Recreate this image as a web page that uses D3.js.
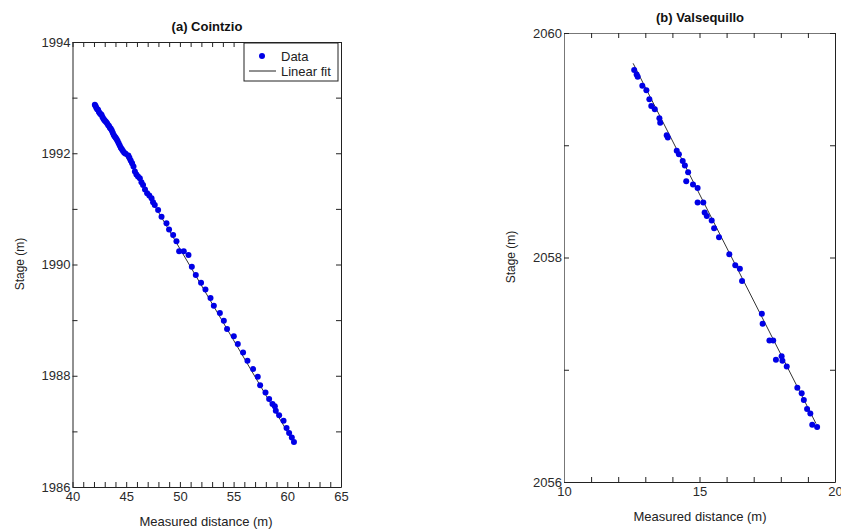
<!DOCTYPE html>
<html>
<head>
<meta charset="utf-8">
<script src="https://cdn.jsdelivr.net/npm/d3@7"></script>
<style>
  body { margin: 0; background: #fff; }
  svg { display: block; font-family: "Liberation Sans", Arial, sans-serif; }
</style>
</head>
<body>
<div id="visContainer"></div>
<script>
// panel (a) Cointzio
const cointzioX = [42.08, 42.15, 42.22, 42.30, 42.38, 42.46, 42.55, 42.62, 42.70, 42.79,
  42.88, 42.96, 43.04, 43.13, 43.22, 43.31, 43.40, 43.48, 43.57, 43.66,
  43.75, 43.84, 43.93, 44.02, 44.11, 44.20, 44.30, 44.40, 44.50, 44.60,
  44.70, 44.82, 44.95, 45.20, 45.30, 45.42, 45.55, 45.68, 45.81, 45.95,
  46.10, 46.27, 46.42, 46.57, 46.75, 46.95, 47.15, 47.36, 47.50, 47.66,
  47.97, 48.29, 48.75, 48.99, 49.37, 49.68, 49.93, 50.36, 50.80, 51.11,
  51.48, 51.97, 52.38, 52.85, 53.16, 53.72, 54.09, 54.39, 55.02, 55.39,
  55.88, 56.29, 56.82, 57.25, 57.47, 57.97, 58.31, 58.62, 58.84, 58.93,
  59.24, 59.65, 59.93, 60.17, 60.42, 60.62];
const cointzioY = [1992.87, 1992.85, 1992.82, 1992.79, 1992.78, 1992.74, 1992.72, 1992.70, 1992.69, 1992.65,
  1992.62, 1992.60, 1992.58, 1992.56, 1992.54, 1992.51, 1992.49, 1992.46, 1992.44, 1992.41,
  1992.37, 1992.33, 1992.30, 1992.28, 1992.25, 1992.22, 1992.18, 1992.14, 1992.10, 1992.07,
  1992.04, 1992.01, 1991.99, 1991.96, 1991.92, 1991.87, 1991.82, 1991.76, 1991.67, 1991.62,
  1991.58, 1991.55, 1991.48, 1991.43, 1991.35, 1991.28, 1991.24, 1991.19, 1991.12, 1991.07,
  1990.98, 1990.86, 1990.74, 1990.63, 1990.53, 1990.42, 1990.24, 1990.24, 1990.17, 1989.96,
  1989.81, 1989.67, 1989.55, 1989.40, 1989.26, 1989.13, 1988.99, 1988.84, 1988.71, 1988.57,
  1988.42, 1988.27, 1988.12, 1987.98, 1987.83, 1987.70, 1987.58, 1987.49, 1987.45, 1987.37,
  1987.29, 1987.19, 1987.06, 1986.97, 1986.89, 1986.81];
const cointzioFitX = [42.05, 60.65];
const cointzioFitY = [1992.90, 1986.78];
const cointzioXTicks = [40, 41, 42, 43, 44, 45, 46, 47, 48, 49, 50, 51, 52, 53, 54, 55, 56, 57, 58, 59, 60, 61, 62, 63, 64, 65];
const cointzioXLabels = [40, 45, 50, 55, 60, 65];
const cointzioYTicks = [1986, 1987, 1988, 1989, 1990, 1991, 1992, 1993, 1994];
const cointzioYLabels = [1986, 1988, 1990, 1992, 1994];

// panel (b) Valsequillo
const valsX = [12.59, 12.68, 12.72, 12.89, 13.04, 13.15, 13.22, 13.35, 13.52, 13.55,
  13.79, 13.83, 14.16, 14.24, 14.38, 14.46, 14.58, 14.51, 14.76, 14.93,
  14.93, 15.14, 15.19, 15.27, 15.45, 15.54, 15.72, 16.10, 16.32, 16.49,
  16.57, 17.30, 17.33, 17.58, 17.72, 18.03, 17.82, 18.06, 18.22, 18.61,
  18.77, 18.85, 18.97, 19.09, 19.16, 19.34];
const valsY = [2059.67, 2059.63, 2059.61, 2059.53, 2059.49, 2059.41, 2059.35, 2059.32, 2059.24, 2059.20,
  2059.09, 2059.07, 2058.95, 2058.92, 2058.86, 2058.82, 2058.76, 2058.68, 2058.65, 2058.62,
  2058.49, 2058.49, 2058.40, 2058.37, 2058.33, 2058.26, 2058.18, 2058.03, 2057.93, 2057.90,
  2057.79, 2057.50, 2057.41, 2057.26, 2057.26, 2057.12, 2057.09, 2057.08, 2057.03, 2056.84,
  2056.79, 2056.73, 2056.65, 2056.61, 2056.51, 2056.49];
const valsFitX = [12.55, 19.30];
const valsFitY = [2059.73, 2056.52];
const valsXTicks = [10, 11, 12, 13, 14, 15, 16, 17, 18, 19, 20];
const valsXLabels = [10, 15, 20];
const valsYTicks = [2056, 2057, 2058, 2059, 2060];
const valsYLabels = [2056, 2058, 2060];

const width = 841;
const height = 530;

const svg = d3.select("#visContainer")
  .append("svg")
  .attr("width", width)
  .attr("height", height);

svg.append("rect").attr("width", width).attr("height", height).attr("fill", "#fff");

function drawPanel(p) {
  const xScale = d3.scaleLinear().domain(p.xDomain).range([p.left, p.right]);
  const yScale = d3.scaleLinear().domain(p.yDomain).range([p.bottom, p.top]);
  const g = svg.append("g");

  const fmtX = (d) => p.xLabels.includes(d) ? d : "";
  const fmtY = (d) => p.yLabels.includes(d) ? d : "";

  // axes with inward ticks
  const bottomAxis = g.append("g")
    .attr("transform", `translate(0, ${p.bottom})`)
    .call(d3.axisBottom(xScale).tickValues(p.xTicks).tickFormat(fmtX).tickSizeInner(-5).tickSizeOuter(0).tickPadding(3));
  const topAxis = g.append("g")
    .attr("transform", `translate(0, ${p.top})`)
    .call(d3.axisTop(xScale).tickValues(p.xTicks).tickFormat("").tickSizeInner(-5).tickSizeOuter(0));
  const leftAxis = g.append("g")
    .attr("transform", `translate(${p.left}, 0)`)
    .call(d3.axisLeft(yScale).tickValues(p.yTicks).tickFormat(fmtY).tickSizeInner(-5).tickSizeOuter(0).tickPadding(2));
  const rightAxis = g.append("g")
    .attr("transform", `translate(${p.right}, 0)`)
    .call(d3.axisRight(yScale).tickValues(p.yTicks).tickFormat("").tickSizeInner(-5).tickSizeOuter(0));

  [bottomAxis, topAxis, leftAxis, rightAxis].forEach((a) => {
    a.selectAll(".tick line").attr("stroke", "#222");
    a.select(".domain").attr("stroke", "#222");
    a.selectAll("text").attr("font-size", 13).attr("fill", "#2a2a2a")
      .attr("font-family", "Liberation Sans, Arial, sans-serif");
  });
  if (p.graySpine) {
    leftAxis.select(".domain").attr("stroke", "#777");
    topAxis.select(".domain").attr("stroke", "#777");
  }
  bottomAxis.selectAll("text").attr("dy", "0.85em");

  // linear fit
  const fit = p.fitX.map((x, i) => [x, p.fitY[i]]);
  g.append("path")
    .datum(fit)
    .attr("fill", "none")
    .attr("stroke", "#333")
    .attr("stroke-width", 1)
    .attr("d", d3.line().x((d) => xScale(d[0])).y((d) => yScale(d[1])));

  // data points
  const pts = p.x.map((x, i) => ({ x: x, y: p.y[i] }));
  g.selectAll("circle")
    .data(pts)
    .join("circle")
    .attr("cx", (d) => xScale(d.x))
    .attr("cy", (d) => yScale(d.y))
    .attr("r", 3)
    .attr("fill", "#0000e6");

  // titles and labels
  g.append("text")
    .attr("x", p.titleX).attr("y", p.titleY)
    .attr("text-anchor", "middle")
    .attr("font-size", 13).attr("font-weight", "bold").attr("fill", "#111")
    .text(p.title);
  g.append("text")
    .attr("x", p.xLabelX).attr("y", p.xLabelY)
    .attr("text-anchor", "middle")
    .attr("font-size", 13).attr("fill", "#222")
    .text("Measured distance (m)");
  g.append("text")
    .attr("transform", `translate(${p.yLabelX}, ${p.yLabelY}) rotate(-90)`)
    .attr("text-anchor", "middle")
    .attr("font-size", 12).attr("fill", "#222")
    .text("Stage (m)");

  return { xScale, yScale, g };
}

const a = drawPanel({
  x: cointzioX, y: cointzioY, fitX: cointzioFitX, fitY: cointzioFitY,
  xDomain: [40, 65], yDomain: [1986, 1994],
  xTicks: cointzioXTicks, xLabels: cointzioXLabels,
  yTicks: cointzioYTicks, yLabels: cointzioYLabels,
  left: 72.5, right: 341, top: 42, bottom: 487,
  title: "(a) Cointzio", titleX: 207, titleY: 31,
  xLabelX: 206, xLabelY: 526, yLabelX: 24, yLabelY: 264
});

drawPanel({
  x: valsX, y: valsY, fitX: valsFitX, fitY: valsFitY,
  xDomain: [10, 20], yDomain: [2056, 2060],
  xTicks: valsXTicks, xLabels: valsXLabels,
  yTicks: valsYTicks, yLabels: valsYLabels,
  left: 564, right: 835, top: 33, bottom: 482, graySpine: true,
  title: "(b) Valsequillo", titleX: 700, titleY: 22,
  xLabelX: 700, xLabelY: 521, yLabelX: 515, yLabelY: 257
});

// legend for panel (a)
const legend = svg.append("g");
legend.append("rect")
  .attr("x", 244).attr("y", 43).attr("width", 94).attr("height", 38)
  .attr("fill", "#fff").attr("stroke", "#222").attr("stroke-width", 1);
legend.append("circle").attr("cx", 262).attr("cy", 56).attr("r", 3).attr("fill", "#0000e6");
legend.append("line").attr("x1", 249).attr("x2", 276).attr("y1", 71).attr("y2", 71)
  .attr("stroke", "#222").attr("stroke-width", 1);
legend.append("text").attr("x", 281).attr("y", 60.5).attr("font-size", 13).attr("fill", "#222").text("Data");
legend.append("text").attr("x", 281).attr("y", 75.5).attr("font-size", 13).attr("fill", "#222").text("Linear fit");
</script>
</body>
</html>
